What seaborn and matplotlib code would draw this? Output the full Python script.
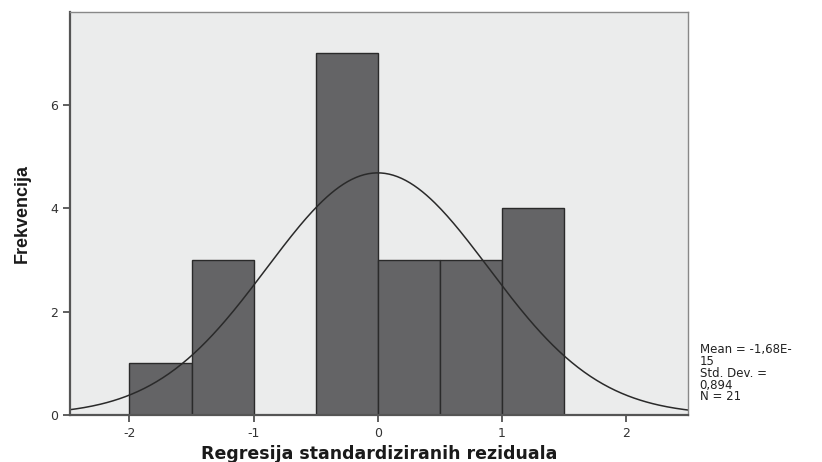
import numpy as np
import pandas as pd
import matplotlib.pyplot as plt
import seaborn as sns

bin_edges = [-2.0, -1.5, -1.0, -0.5, 0.0, 0.5, 1.0, 1.5]
counts = [1, 3, 0, 7, 3, 3, 4]
mean_val = -1.68e-15
std_val = 0.894
n_val = 21
x_ticks = [-2, -1, 0, 1, 2]
y_ticks = [0, 2, 4, 6]

sns.set_style("white")
plt.rcParams['font.family'] = ['DejaVu Sans']
plt.rcParams['axes.unicode_minus'] = False

df = pd.DataFrame({
    'center': [(a + b) / 2 for a, b in zip(bin_edges[:-1], bin_edges[1:])],
    'count': counts,
})

fig = plt.figure(figsize=(8.22, 4.62), dpi=100)
ax = fig.add_axes([0.085, 0.102, 0.752, 0.872])
ax.set_facecolor('#ebecec')

sns.histplot(data=df, x='center', weights='count', bins=bin_edges, ax=ax,
             color='#646466', alpha=1, edgecolor='#2a2a2a', linewidth=1.0)

# normal curve fitted from mean / sd / N
width = bin_edges[1] - bin_edges[0]
xs = np.linspace(-2.5, 2.5, 300)
ys = n_val * width / (std_val * np.sqrt(2 * np.pi)) * np.exp(-(xs - mean_val) ** 2 / (2 * std_val ** 2))
sns.lineplot(x=xs, y=ys, ax=ax, color='#2a2a2a', linewidth=1.1)

ax.set_xlim(-2.48, 2.5)
ax.set_ylim(0, 7.8)
ax.set_xticks(x_ticks)
ax.set_yticks(y_ticks)
ax.tick_params(axis='both', direction='out', length=5, width=1.2, color='#444444',
               labelsize=9, labelcolor='#333333', bottom=True, left=True)
for side in ['left', 'bottom']:
    ax.spines[side].set_color('#555555')
    ax.spines[side].set_linewidth(1.6)
for side in ['top', 'right']:
    ax.spines[side].set_color('#888888')
    ax.spines[side].set_linewidth(1.0)

ax.set_xlabel('Regresija standardiziranih reziduala', fontsize=12.5, fontweight='bold',
              color='#1a1a1a', labelpad=4)
ax.set_ylabel('Frekvencija', fontsize=13, fontweight='bold', color='#1a1a1a',
              family=['Liberation Sans Narrow', 'Liberation Sans'], labelpad=14)

fig.text(0.851, 0.127, 'Mean = -1,68E-\n15\nStd. Dev. =\n0,894\nN = 21',
         fontsize=8.5, color='#222222', linespacing=0.88, va='bottom', ha='left')

fig.savefig('out.png', dpi=100)
